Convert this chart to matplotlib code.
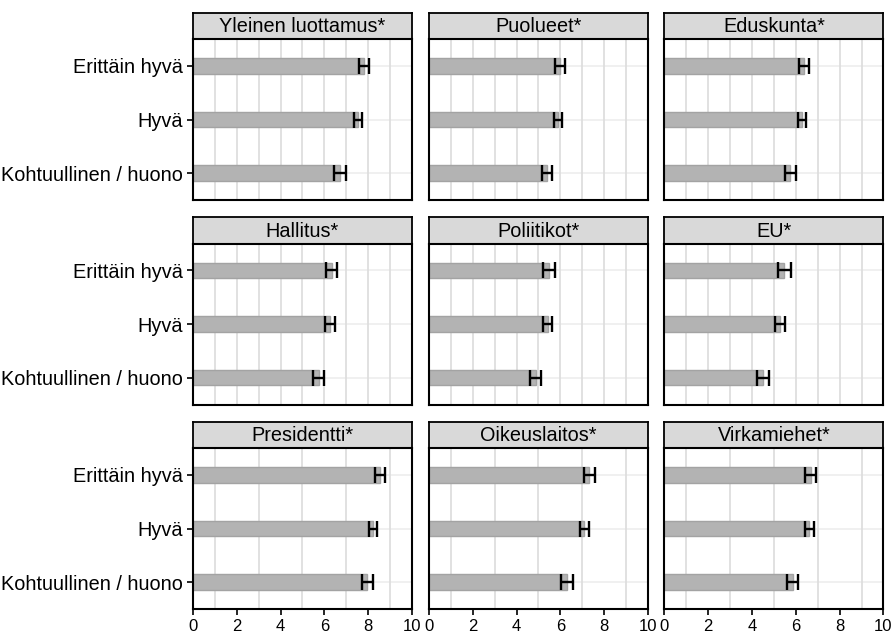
import numpy as np
import matplotlib
matplotlib.use("Agg")
import matplotlib.pyplot as plt

plt.rcParams['font.family'] = ['Liberation Sans', 'DejaVu Sans']

# Facets, read row by row
paneelit = ["Yleinen luottamus*", "Puolueet*", "Eduskunta*",
            "Hallitus*", "Poliitikot*", "EU*",
            "Presidentti*", "Oikeuslaitos*", "Virkamiehet*"]
luokat = ["Erittäin hyvä", "Hyvä", "Kohtuullinen / huono"]

# means per class, one value per facet
erittain_hyva = [7.80, 5.97, 6.37, 6.34, 5.47, 5.47, 8.53, 7.32, 6.67]
hyva = [7.53, 5.91, 6.27, 6.26, 5.42, 5.28, 8.21, 7.09, 6.61]
kohtuullinen = [6.70, 5.39, 5.74, 5.74, 4.87, 4.50, 7.95, 6.30, 5.85]

# half-widths of the error bars
err_erittain = [0.23, 0.23, 0.23, 0.25, 0.27, 0.30, 0.23, 0.24, 0.25]
err_hyva = [0.20, 0.18, 0.19, 0.21, 0.20, 0.22, 0.19, 0.20, 0.20]
err_kohtuu = [0.27, 0.24, 0.25, 0.24, 0.25, 0.28, 0.25, 0.26, 0.25]

x_ticks = [0, 2, 4, 6, 8, 10]

W, H = 895, 637
fig = plt.figure(figsize=(W / 100, H / 100), dpi=100)

col_left = [193, 429, 664.5]
ax_w = 219
strip_top = [12.5, 217, 421.5]
strip_h = 26.5
ax_h = 161

ypos = [3, 2, 1]
fs_lab = 14.3

for i, nimi in enumerate(paneelit):
    r, c = divmod(i, 3)
    x0 = col_left[c]
    st = strip_top[r]
    # strip
    sax = fig.add_axes([x0 / W, 1 - (st + strip_h) / H, ax_w / W, strip_h / H])
    sax.set_facecolor("#d9d9d9")
    sax.set_xticks([])
    sax.set_yticks([])
    for sp in sax.spines.values():
        sp.set_linewidth(1.3)
        sp.set_color("black")
    sax.text(0.5, 0.46, nimi, ha="center", va="center", fontsize=fs_lab,
             transform=sax.transAxes)

    ax = fig.add_axes([x0 / W, 1 - (st + strip_h + ax_h) / H, ax_w / W, ax_h / H])
    vals = [erittain_hyva[i], hyva[i], kohtuullinen[i]]
    errs = [err_erittain[i], err_hyva[i], err_kohtuu[i]]
    ax.barh(ypos, vals, height=0.29, color="#b3b3b3", edgecolor="#a3a3a3",
            linewidth=1.0, zorder=2)
    ax.errorbar(vals, ypos, xerr=errs, fmt="none", ecolor="black",
                elinewidth=1.7, capsize=5.6, capthick=1.7, zorder=3)
    ax.set_xlim(0, 10)
    ax.set_ylim(0.5, 3.5)
    ax.set_xticks(np.arange(0, 11, 1), minor=True)
    ax.grid(True, which="minor", axis="x", color="#dedede", linewidth=1.3, zorder=0)
    for y in ypos:
        ax.axhline(y, color="#eeeeee", linewidth=1.2, zorder=0)
    ax.set_axisbelow(True)
    for sp in ax.spines.values():
        sp.set_linewidth(1.5)
        sp.set_color("black")
    ax.tick_params(which="minor", length=0)
    ax.tick_params(which="major", length=4, width=1.2, color="black")

    if r == 2:
        ax.set_xticks(x_ticks)
        ax.set_xticklabels([str(t) for t in x_ticks], fontsize=12)
        ax.tick_params(axis="x", pad=3)
    else:
        ax.set_xticks([])
    if c == 0:
        ax.set_yticks(ypos)
        ax.set_yticklabels(luokat, fontsize=fs_lab)
        ax.tick_params(axis="y", pad=3)
    else:
        ax.set_yticks([])

fig.savefig("out.png", dpi=100)
